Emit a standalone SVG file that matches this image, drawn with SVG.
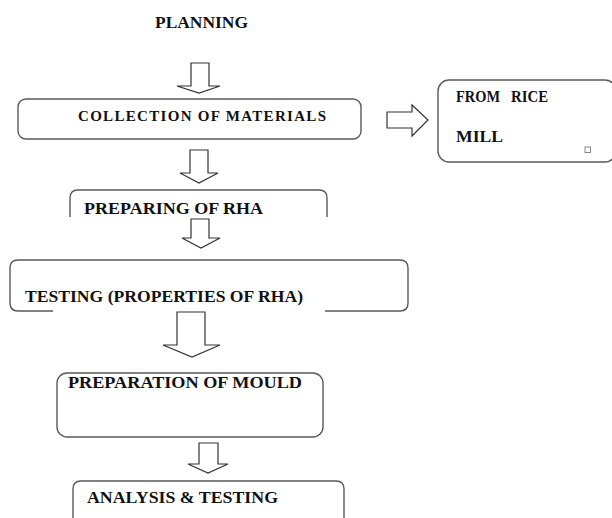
<svg xmlns="http://www.w3.org/2000/svg" width="612" height="518" viewBox="0 0 612 518">
<style>
.box{fill:none;stroke:#5a5a5a;stroke-width:1.4}
.arr{fill:#fff;stroke:#333;stroke-width:1.2;stroke-linejoin:miter}
.t{font-family:"Liberation Serif","Times New Roman",serif;font-weight:bold;font-size:17.5px;fill:#111}
.s{font-family:"Liberation Serif","Times New Roman",serif;font-weight:bold;font-size:15px;fill:#111}
</style>
<rect width="612" height="518" fill="#fff"/>
<g id="planning"><text class="t" x="155" y="28" textLength="93" lengthAdjust="spacingAndGlyphs">PLANNING</text></g>
<g id="collection">
<rect class="box" x="18" y="99" width="343" height="40" rx="8"/>
<text class="s" x="78" y="121" textLength="248" lengthAdjust="spacing">COLLECTION OF MATERIALS</text>
</g>
<g id="rice-mill">
<rect class="box" x="438" y="80" width="178" height="82" rx="11"/>
<text class="t" x="456" y="102" textLength="44" lengthAdjust="spacingAndGlyphs">FROM</text>
<text class="t" x="511" y="102" textLength="37" lengthAdjust="spacingAndGlyphs">RICE</text>
<text class="t" x="456" y="142" textLength="47" lengthAdjust="spacingAndGlyphs">MILL</text>
<rect x="585" y="147" width="5.5" height="5.5" fill="none" stroke="#888" stroke-width="1"/>
</g>
<g id="preparing-rha">
<path class="box" d="M70,217 V198 Q70,190 78,190 H319 Q327,190 327,198 V217"/>
<text class="t" x="84" y="214" textLength="179" lengthAdjust="spacingAndGlyphs">PREPARING OF RHA</text>
</g>
<g id="testing">
<path class="box" d="M53,311 H18 Q10,311 10,303 V268 Q10,260 18,260 H400 Q408,260 408,268 V303 Q408,311 400,311 H325"/>
<text class="t" x="25" y="302" textLength="278" lengthAdjust="spacingAndGlyphs">TESTING (PROPERTIES OF RHA)</text>
</g>
<g id="mould">
<rect class="box" x="57" y="373" width="266" height="64" rx="10"/>
<text class="t" x="68" y="388" textLength="234" lengthAdjust="spacingAndGlyphs">PREPARATION OF MOULD</text>
</g>
<g id="analysis">
<path class="box" d="M73,520 V489 Q73,481 81,481 H336 Q344,481 344,489 V520"/>
<text class="t" x="87" y="503" textLength="191" lengthAdjust="spacingAndGlyphs">ANALYSIS &amp; TESTING</text>
</g>
<g id="connectors">
<polygon class="arr" points="191,63 209,63 209,86 220,86 199,93 177,86 191,86"/>
<polygon class="arr" points="190,150 208,150 208,173 218,173 199,183 180,173 190,173"/>
<polygon class="arr" points="191,219 209,219 209,238 220,238 201,248 182,238 191,238"/>
<polygon class="arr" points="177,312 205,312 205,345 220,345 192,357 163,345 177,345"/>
<polygon class="arr" points="199,443 218,443 218,464 228,464 208,473 188,464 199,464"/>
<polygon class="arr" points="387,112 412,112 412,105 428,120 412,136 412,128 387,128"/>
</g>
</svg>
